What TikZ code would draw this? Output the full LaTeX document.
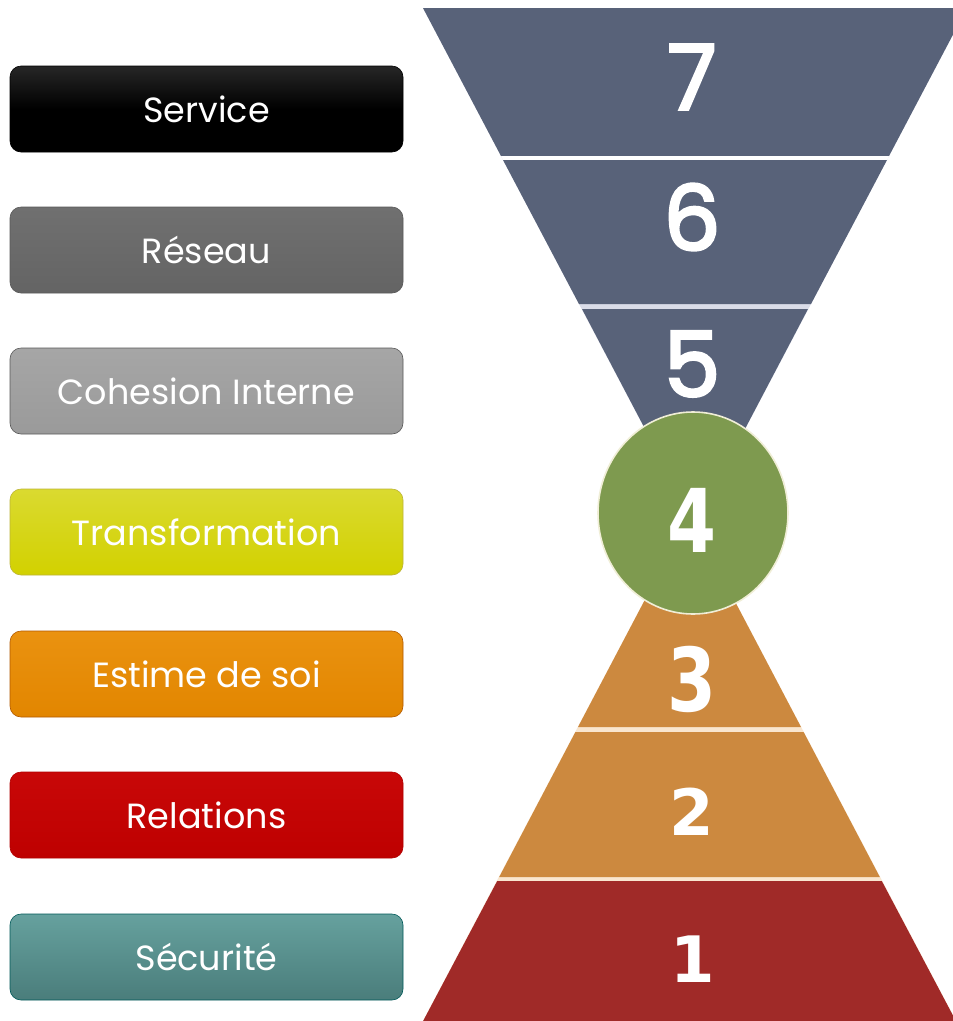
\documentclass[tikz,border=0pt]{standalone}
\usepackage{fontspec}
\usetikzlibrary{shapes.geometric}
\setmainfont{Poppins}
\newfontfamily\digfont{DejaVu Sans}
\newfontfamily\topdig{Poppins}[FakeBold=3]
\definecolor{funnel}{HTML}{586279}
\definecolor{greenc}{HTML}{7E9A4F}
\definecolor{orangec}{HTML}{CC893F}
\definecolor{redc}{HTML}{A02A28}
\definecolor{gapblue}{HTML}{DADCE8}
\definecolor{gapcream}{HTML}{F9E6CF}
\definecolor{rimc}{HTML}{F0EED7}
\tikzset{
  lbl/.style={rounded corners=11pt, minimum width=393pt, minimum height=86pt,
    inner sep=0pt, text=white, font=\fontsize{35}{40}\selectfont, draw=#1!70!black, line width=0.6pt},
  digtop/.style={text=white, inner sep=0pt, font=\topdig\fontsize{90}{90}\selectfont},
  digbig/.style={text=white, inner sep=0pt, xscale=0.8, font=\digfont\bfseries\fontsize{88}{88}\selectfont},
  digsmall/.style={text=white, inner sep=0pt, font=\digfont\bfseries\fontsize{64}{64}\selectfont},
}
\begin{document}
\begin{tikzpicture}[x=1pt,y=-1pt]
\useasboundingbox (0,0) rectangle (953,1021);
\clip (0,0) rectangle (953,1021);
\fill[white] (0,0) rectangle (953,1021);

% left labels
\node[lbl=black, top color=black!85, bottom color=black, middle color=black] (service) at (206.5,109) {Service};
\node[lbl=gray, top color={rgb,255:red,112;green,112;blue,112}, bottom color={rgb,255:red,100;green,100;blue,100}] (reseau) at (206.5,250) {Réseau};
\node[lbl=gray, top color={rgb,255:red,166;green,166;blue,166}, bottom color={rgb,255:red,154;green,154;blue,154}] (cohesion) at (206.5,391) {Cohesion Interne};
\node[lbl=yellow, top color={rgb,255:red,218;green,218;blue,48}, bottom color={rgb,255:red,210;green,209;blue,0}] (transfo) at (206.5,532) {Transformation};
\node[lbl=orange, top color={rgb,255:red,234;green,146;blue,16}, bottom color={rgb,255:red,226;green,134;blue,0}] (estime) at (206.5,674) {Estime de soi};
\node[lbl=red, top color={rgb,255:red,200;green,8;blue,8}, bottom color={rgb,255:red,190;green,0;blue,0}] (relations) at (206.5,815) {Relations};
\node[lbl=teal, top color={rgb,255:red,102;green,161;blue,158}, bottom color={rgb,255:red,74;green,125;blue,123}] (securite) at (206.5,957) {Sécurité};

% inverted funnel
\fill[gapblue] (423,8) -- (967,8) -- (695,524) -- cycle;
\fill[funnel] (423,8) -- (967,8) -- (889,156) -- (501,156) -- cycle;
\fill[white] (501,156) -- (889,156) -- (887,160) -- (503,160) -- cycle;
\fill[funnel] (503,160) -- (887,160) -- (811,304) -- (579,304) -- cycle;
\fill[funnel] (582,309) -- (808,309) -- (695,524) -- cycle;

% pyramid
\fill[gapcream] (689.5,515) -- (956,1021) -- (423,1021) -- cycle;
\fill[orangec] (689.5,515) -- (801,727) -- (578,727) -- cycle;
\fill[orangec] (575.4,732) -- (803.6,732) -- (879.8,877) -- (499.2,877) -- cycle;
\fill[redc] (497.2,881) -- (881.8,881) -- (955.9,1021) -- (423.1,1021) -- cycle;

% circle
\node[ellipse, minimum width=190pt, minimum height=202pt, inner sep=0pt,
  fill=greenc, draw=rimc, line width=1.6pt] (c4) at (693,513) {};

% digits
\node[digtop] (d7) at (692,77) {7};
\node[digtop] (d6) at (692,217) {6};
\node[digtop] (d5) at (692,364) {5};
\node[digbig] (d4) at (692,520) {4};
\node[digbig] (d3) at (692,679) {3};
\node[digsmall] (d2) at (692,812) {2};
\node[digsmall] (d1) at (693,959) {1};
\end{tikzpicture}
\end{document}
